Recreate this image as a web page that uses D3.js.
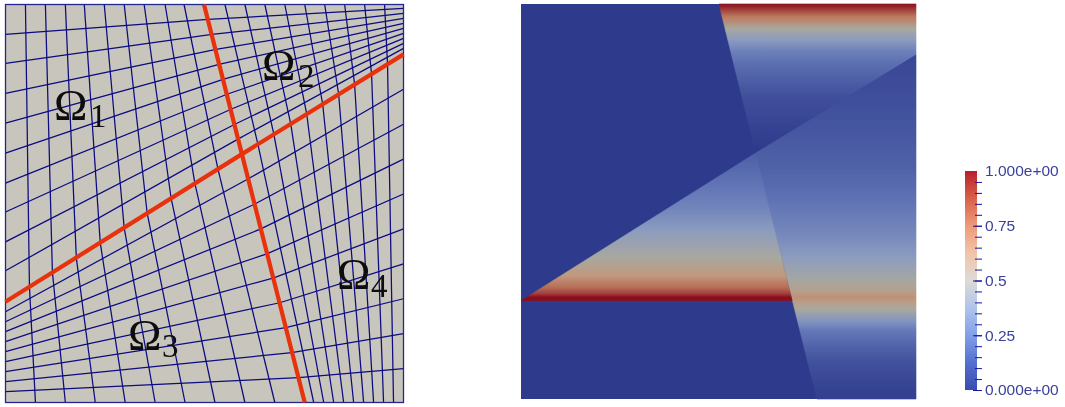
<!DOCTYPE html>
<html lang="en">
<head>
<meta charset="utf-8">
<title>mesh and field</title>
<script src="https://cdn.jsdelivr.net/npm/d3@7"></script>
<style>
html, body { margin: 0; padding: 0; background: #fff; }
svg { display: block; }
</style>
</head>
<body>
<div id="drawing"></div>
<script>
// mesh nodes, in mesh units (0..400 across the square)
var topNodes1 = [[20,0],[40,0],[60,0],[79,0],[99,0],[119,0],[139,0],[160,0],[179,0]];
var topNodes2 = [[220,0],[240,0],[260,0],[280,0],[300,0],[320,0],[340,0],[360,0],[380,0]];
var bottomNodes3 = [[30,399],[60,399],[90,399],[120,399],[150,399],[180,399],[210,399],[240,399],[270,399]];
var bottomNodes4 = [[309,399],[319,399],[329,399],[339,399],[349,399],[359,399],[369,399],[379,399],[389,399]];
var leftNodes1 = [[0,30],[0,59],[0,89],[0,119],[0,149],[0,179],[0,208],[0,238],[0,267]];
var leftNodes3 = [[0,308],[0,318],[0,328],[0,338],[0,348],[0,358],[0,368],[0,378],[0,388]];
var rightNodes2 = [[399,4],[399,9],[399,14],[399,19],[399,24],[399,29],[399,34],[399,39],[399,44]];
var rightNodes4 = [[399,85],[399,120],[399,155],[399,190],[399,225],[399,260],[399,295],[399,330],[399,365]];
var ifaceAUpper = [[203,15],[207,30],[211,45],[214,60],[218,75],[222,90],[226,105],[230,120],[233,135]];
var ifaceALower = [[243,175],[250,200],[256,225],[262,250],[269,274],[275,299],[281,324],[287,349],[294,374]];
var ifaceBLeft = [[24,283],[47,268],[71,254],[95,239],[119,224],[142,209],[166,194],[190,180],[213,165]];
var ifaceBRight = [[253,140],[269,130],[286,120],[302,110],[318,100],[334,90],[350,80],[367,70],[383,60]];
var ifaceA = [[199,0],[237,150],[300,399]];
var ifaceB = [[0,298],[237,150],[399,50]];

var subLabels = ["1","2","3","4"];

// solution field: regions (mesh units) and value against height
var regionTop = [[200.5,0],[400,0],[400,51.6],[237.7,150.9]];
var regionRight = [[237.7,150.9],[400,51.6],[400,400],[299.7,400]];
var regionLeft = [[0,300.5],[237.7,150.9],[274.5,300.5]];
var profileTop = [[0,1],[6,.88],[13,.75],[25,.5],[36,.38],[49,.27],[63,.2],[79,.14],[96,.08],[129,.03],[150,0]];
var profileRight = [[52,.05],[76,.07],[116,.1],[166,.16],[196,.22],[231,.3],[256,.38],[278,.48],[291,.58],[297,.66],[303,.58],[309,.5],[321,.35],[331,.25],[346,.17],[361,.1],[381,.05],[395,.03]];
var profileLeft = [[150,.15],[171,.2],[193,.26],[209,.3],[229,.38],[257,.5],[275,.63],[287,.78],[293,.88],[297,1]];

// colours of the lit surface against value
var fieldValues = [0,.25,.375,.5,.625,.75,1];
var fieldColors = ["#2d3a8c","#6478b8","#8b9cc0","#a8a89e","#c09a80","#bd7a5e","#8a0f1e"];
// colour bar
var barValues = [0,.125,.25,.375,.5,.625,.75,.875,1];
var barColors = ["#3a4bb0","#5470d0","#80a0e8","#b0c4ec","#dddbd6","#f2c4aa","#ee9a78","#d8604c","#b8202a"];
var minorTicks = d3.range(1,20).map(function(d){ return d*0.05; });
var majorTicks = [0,.25,.5,.75,1];
var majorLabels = ["0.000e+00","0.25","0.5","0.75","1.000e+00"];

var svg = d3.select("#drawing").append("svg")
    .attr("width",1065).attr("height",407);
var defs = svg.append("defs");
var soft = defs.append("filter").attr("id","soft");
soft.append("feGaussianBlur").attr("stdDeviation",0.4);

// left panel
var mx = d3.scaleLinear().domain([0,399]).range([5.5,403.5]);
var my = d3.scaleLinear().domain([0,399]).range([4.5,402.5]);
var line = d3.line().x(function(d){return mx(d[0]);}).y(function(d){return my(d[1]);});

var left = svg.append("g").attr("filter","url(#soft)");
left.append("rect")
    .attr("x",mx(0)).attr("y",my(0))
    .attr("width",mx(399)-mx(0)).attr("height",my(399)-my(0))
    .attr("fill","#c8c5bd");

var meshLines = [].concat(
    d3.zip(topNodes1,ifaceBLeft),
    d3.zip(leftNodes1,ifaceAUpper),
    d3.zip(topNodes2,ifaceBRight),
    d3.zip(ifaceAUpper,rightNodes2),
    d3.zip(ifaceBLeft,bottomNodes3),
    d3.zip(leftNodes3,ifaceALower),
    d3.zip(ifaceBRight,bottomNodes4),
    d3.zip(ifaceALower,rightNodes4)
);
left.selectAll("path.mesh").data(meshLines).enter().append("path")
    .attr("class","mesh")
    .attr("d",line)
    .attr("fill","none")
    .attr("stroke","#0a0a80")
    .attr("stroke-width",1.25);
left.append("rect")
    .attr("x",mx(0)).attr("y",my(0))
    .attr("width",mx(399)-mx(0)).attr("height",my(399)-my(0))
    .attr("fill","none").attr("stroke","#24278f").attr("stroke-width",1.3);
left.selectAll("path.iface").data([ifaceA,ifaceB]).enter().append("path")
    .attr("class","iface")
    .attr("d",line)
    .attr("fill","none")
    .attr("stroke","#e8320c")
    .attr("stroke-width",4.2);

var labelX = [54,262,128,337];
var labelY = [120,80,350,289];
var subX = [90,298,162,371];
var subY = [127,87,357,297];
subLabels.forEach(function(s,i){
    left.append("text").attr("x",labelX[i]).attr("y",labelY[i])
        .attr("font-family","Liberation Serif").attr("font-size",45)
        .attr("fill","#0c0c0c").text("Ω");
    left.append("text").attr("x",subX[i]).attr("y",subY[i])
        .attr("font-family","Liberation Serif").attr("font-size",33)
        .attr("fill","#0c0c0c").text(s);
});

// right panel
var fx = d3.scaleLinear().domain([0,400]).range([521,916]);
var fy = d3.scaleLinear().domain([0,400]).range([4,399]);
var fieldColor = d3.scaleLinear().domain(fieldValues).range(fieldColors);

function addGradient(id,profile){
    var y0 = profile[0][0], y1 = profile[profile.length-1][0];
    var g = defs.append("linearGradient").attr("id",id)
        .attr("gradientUnits","userSpaceOnUse")
        .attr("x1",0).attr("x2",0).attr("y1",fy(y0)).attr("y2",fy(y1));
    g.selectAll("stop").data(profile).enter().append("stop")
        .attr("offset",function(d){ return (d[0]-y0)/(y1-y0); })
        .attr("stop-color",function(d){ return fieldColor(d[1]); });
}
addGradient("gTop",profileTop);
addGradient("gRight",profileRight);
addGradient("gLeft",profileLeft);

var field = svg.append("g").attr("filter","url(#soft)");
field.append("rect")
    .attr("x",fx(0)).attr("y",fy(0))
    .attr("width",fx(400)-fx(0)).attr("height",fy(400)-fy(0))
    .attr("fill",fieldColor(0));
var polyPoints = function(r){ return r.map(function(d){ return fx(d[0])+","+fy(d[1]); }).join(" "); };
// thin stroke closes the seam between neighbouring regions
field.selectAll("polygon")
    .data([[regionTop,"gTop"],[regionRight,"gRight"],[regionLeft,"gLeft"]])
    .enter().append("polygon")
    .attr("points",function(d){ return polyPoints(d[0]); })
    .attr("fill",function(d){ return "url(#"+d[1]+")"; })
    .attr("stroke",function(d){ return "url(#"+d[1]+")"; })
    .attr("stroke-width",0.6);

// colour bar
var by = d3.scaleLinear().domain([0,1]).range([390,171]);
var barGrad = defs.append("linearGradient").attr("id","gBar")
    .attr("x1",0).attr("x2",0).attr("y1",1).attr("y2",0);
barGrad.selectAll("stop").data(barValues).enter().append("stop")
    .attr("offset",function(d){ return d; })
    .attr("stop-color",function(d,i){ return barColors[i]; });

var bar = svg.append("g").attr("filter","url(#soft)");
bar.append("rect").attr("x",965).attr("y",by(1))
    .attr("width",12).attr("height",by(0)-by(1))
    .attr("fill","url(#gBar)");

var minorAxis = d3.axisRight(by).tickValues(minorTicks).tickSize(7).tickFormat("");
var minorG = bar.append("g").attr("transform","translate(975,0)").call(minorAxis);
minorG.select(".domain").remove();
minorG.selectAll("line").attr("stroke","#1414a0");

var majorAxis = d3.axisRight(by).tickValues(majorTicks).tickSize(9).tickPadding(3)
    .tickFormat(function(d,i){ return majorLabels[i]; });
var majorG = bar.append("g").attr("transform","translate(973,0)").call(majorAxis);
majorG.select(".domain").remove();
majorG.selectAll("line").attr("stroke","#1414a0")
    .attr("opacity",function(d){ return d==1 ? 0 : 1; });
majorG.selectAll("text")
    .attr("font-family","Liberation Sans").attr("font-size",15.5)
    .attr("fill","#3a419c");
</script>
</body>
</html>
